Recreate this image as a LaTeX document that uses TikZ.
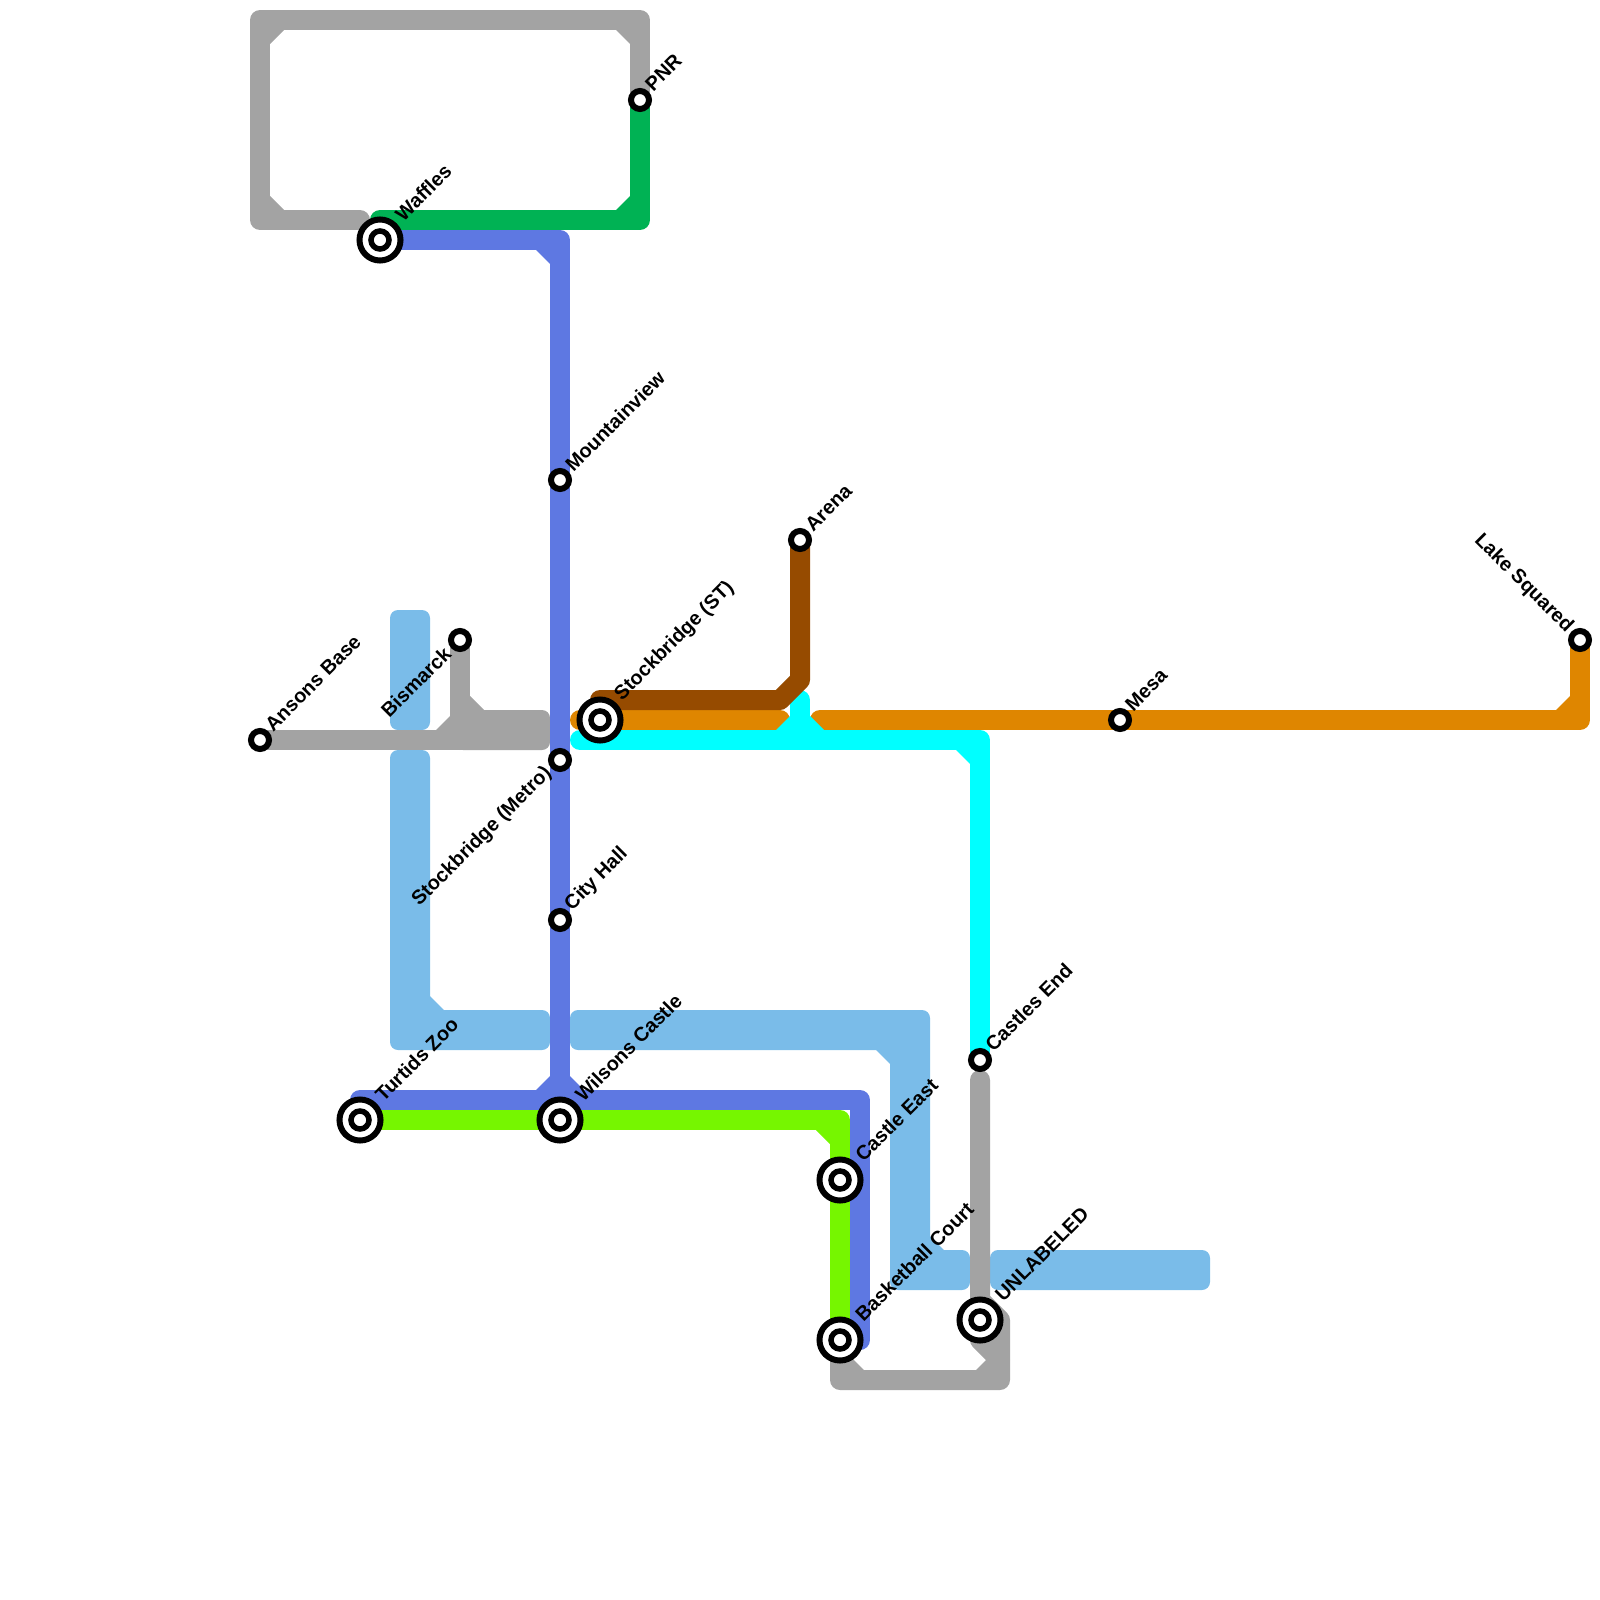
\documentclass[tikz,border=0pt]{standalone}
\usepackage{fontspec}
\setmainfont{Liberation Sans}
\usetikzlibrary{calc}
\definecolor{linegray}{HTML}{A3A3A3}
\definecolor{lineblue}{HTML}{5E78E2}
\definecolor{linesky}{HTML}{7ABCE9}
\definecolor{linegreen}{HTML}{00B254}
\definecolor{linelime}{HTML}{76F600}
\definecolor{linecyan}{HTML}{00FFFF}
\definecolor{lineorange}{HTML}{DF8600}
\definecolor{linebrown}{HTML}{964B00}
\pgfdeclarelayer{lines}
\pgfsetlayers{lines,main}
\tikzset{
  metroline/.style={draw=#1,line width=0.2cm,line cap=round,line join=round},
  band/.style={fill=#1,rounded corners=0.08cm},
  smallstation/.style={circle,draw=black,fill=white,line width=0.06cm,minimum size=0.18cm,inner sep=0pt},
  bigstation/.style={circle,draw=black,fill=white,line width=0.06cm,minimum size=0.41cm,inner sep=0pt,
    path picture={\draw[black,line width=0.055cm] (path picture bounding box.center) circle (0.09cm);}},
  stationname/.style={font=\fontsize{5.65pt}{6.5pt}\selectfont\bfseries,inner sep=0pt,rotate=45,anchor=west}
}
\newcommand{\cutcorners}[2]{\foreach \x/\y/\a/\b in {#2}{\fill[#1] (\x,\y) -- ++(14*\a,0) -- ++(-14*\a,14*\b) -- cycle;}}
\begin{document}
\begin{tikzpicture}[x=0.01cm,y=-0.01cm]
\useasboundingbox (0,0) rectangle (1600,1600);
\node[smallstation] (ansons) at (260,740) {};
\node[smallstation] (bismarck) at (460,640) {};
\node[smallstation] (pnr) at (640,100) {};
\node[bigstation] (waffles) at (380,240) {};
\node[smallstation] (mountainview) at (560,480) {};
\node[bigstation] (stockst) at (600,720) {};
\node[smallstation] (stockmetro) at (560,760) {};
\node[smallstation] (cityhall) at (560,920) {};
\node[smallstation] (arena) at (800,540) {};
\node[smallstation] (mesa) at (1120,720) {};
\node[smallstation] (lake) at (1580,640) {};
\node[smallstation] (castlesend) at (980,1060) {};
\node[bigstation] (turtids) at (360,1120) {};
\node[bigstation] (wilsons) at (560,1120) {};
\node[bigstation] (castleeast) at (840,1180) {};
\node[bigstation] (basketball) at (840,1340) {};
\node[bigstation] (unlabeled) at (980,1320) {};
\coordinate (graytopright) at (640,20);
\coordinate (graytopleft) at (260,20);
\coordinate (graybotleft) at (260,220);
\coordinate (grayend) at (360,220);
\coordinate (greenstart) at (380,220);
\coordinate (greencorner) at (640,220);
\coordinate (bluecorner) at (560,240);
\coordinate (bluestart) at (360,1100);
\coordinate (bluebend) at (860,1100);
\coordinate (blueend) at (860,1340);
\coordinate (grayband) at (500,740);
\coordinate (bismarckfoot) at (460,740);
\coordinate (brownstart) at (600,700);
\coordinate (brownbend) at (780,700);
\coordinate (brownup) at (800,680);
\coordinate (orangeleft) at (580,720);
\coordinate (orangestop) at (780,720);
\coordinate (orangego) at (820,720);
\coordinate (orangecorner) at (1580,720);
\coordinate (cyanstart) at (580,740);
\coordinate (cyancorner) at (980,740);
\coordinate (cyantop) at (800,700);
\coordinate (cyanfoot) at (800,740);
\coordinate (limecorner) at (840,1120);
\coordinate (graytop) at (980,1080);
\coordinate (graykink) at (980,1340);
\coordinate (graykinkend) at (1000,1360);
\coordinate (grayloopstart) at (980,1300);
\coordinate (grayloopbend) at (1000,1320);
\coordinate (grayloopright) at (1000,1380);
\coordinate (grayloopleft) at (840,1380);
\begin{pgfonlayer}{lines}
\fill[band=linesky] (390,610) rectangle (430,730);
\fill[band=linesky] (390,750) -- (430,750) -- (430,1010) -- (550,1010) -- (550,1050) -- (390,1050) -- cycle;
\fill[band=linesky] (570,1010) -- (930,1010) -- (930,1250) -- (970,1250) -- (970,1290) -- (890,1290) -- (890,1050) -- (570,1050) -- cycle;
\fill[band=linesky] (990,1250) rectangle (1210,1290);
\cutcorners{linesky}{430/1010/1/-1,890/1050/-1/1,930/1250/1/-1}
\draw[metroline=linegray] (pnr.center) -- (graytopright) -- (graytopleft) -- (graybotleft) -- (grayend);
\cutcorners{linegray}{270/30/1/1,630/30/-1/1,270/210/1/-1}
\draw[metroline=linegreen] (greenstart) -- (greencorner) -- (pnr.center);
\cutcorners{linegreen}{630/210/-1/-1}
\draw[metroline=linegray] (ansons.center) -- (grayband);
\draw[metroline=linegray] (bismarck.center) -- (bismarckfoot);
\fill[band=linegray] (455,710) rectangle (550,750);
\cutcorners{linegray}{450/730/-1/-1,470/710/1/-1}
\draw[metroline=linelime] (turtids.center) -- (limecorner) -- (basketball.center);
\cutcorners{linelime}{830/1130/-1/1}
\draw[metroline=lineblue] (waffles.center) -- (bluecorner) -- (wilsons.center);
\draw[metroline=lineblue] (bluestart) -- (bluebend) -- (blueend);
\cutcorners{lineblue}{550/250/-1/1,550/1090/-1/-1,570/1090/1/-1}
\draw[metroline=lineorange] (orangeleft) -- (orangestop);
\draw[metroline=lineorange] (orangego) -- (orangecorner) -- (lake.center);
\cutcorners{lineorange}{1570/710/-1/-1}
\draw[metroline=linecyan] (cyanstart) -- (cyancorner) -- (castlesend.center);
\draw[metroline=linecyan] (cyantop) -- (cyanfoot);
\cutcorners{linecyan}{970/750/-1/1,790/730/-1/-1,810/730/1/-1}
\draw[metroline=linebrown] (brownstart) -- (brownbend) -- (brownup) -- (arena.center);
\draw[metroline=linegray] (graytop) -- (graykink) -- (graykinkend);
\draw[metroline=linegray] (grayloopstart) -- (grayloopbend) -- (grayloopright) -- (grayloopleft) -- (basketball.center);
\cutcorners{linegray}{990/1370/-1/-1,850/1370/1/-1}
\end{pgfonlayer}
\node[stationname] at ([shift={(8,-12)}]ansons) {Ansons Base};
\node[stationname,anchor=east] at ([shift={(-12,10)}]bismarck) {Bismarck};
\node[stationname] at ([shift={(8,-12)}]pnr) {PNR};
\node[stationname] at ([shift={(18,-22)}]waffles) {Waffles};
\node[stationname] at ([shift={(8,-12)}]mountainview) {Mountainview};
\node[stationname] at ([shift={(18,-22)}]stockst) {Stockbridge (ST)};
\node[stationname,anchor=east] at ([shift={(-11,10)}]stockmetro) {Stockbridge (Metro)};
\node[stationname] at ([shift={(8,-12)}]cityhall) {City Hall};
\node[stationname] at ([shift={(8,-12)}]arena) {Arena};
\node[stationname] at ([shift={(8,-12)}]mesa) {Mesa};
\node[stationname,rotate=-90,anchor=east] at ([shift={(-10,-10)}]lake) {Lake Squared};
\node[stationname] at ([shift={(8,-12)}]castlesend) {Castles End};
\node[stationname] at ([shift={(18,-22)}]turtids) {Turtids Zoo};
\node[stationname] at ([shift={(18,-22)}]wilsons) {Wilsons Castle};
\node[stationname] at ([shift={(18,-22)}]castleeast) {Castle East};
\node[stationname] at ([shift={(18,-22)}]basketball) {Basketball Court};
\node[stationname] at ([shift={(18,-22)}]unlabeled) {UNLABELED};
\end{tikzpicture}
\end{document}
